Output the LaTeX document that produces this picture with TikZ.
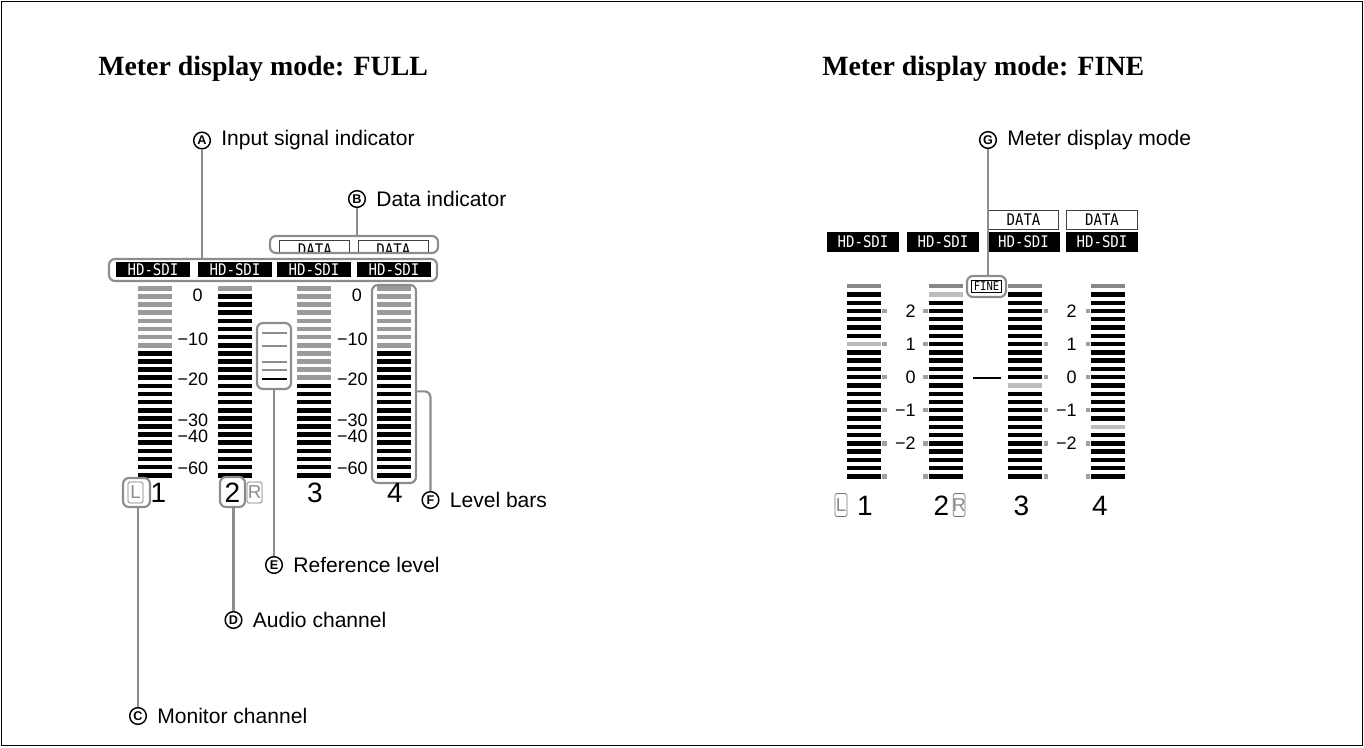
\documentclass[tikz,border=0pt]{standalone}
\usepackage{fontspec}
\setmainfont{Liberation Serif}
\setsansfont{Liberation Sans}
\newfontfamily\labfont{Liberation Sans}
\newfontfamily\lcdfont[FakeStretch=0.88]{DejaVu Sans Mono}
\usetikzlibrary{fit}
\definecolor{cgray}{HTML}{8C8C8C}
\definecolor{bgray}{HTML}{9A9A9A}
\definecolor{lgray}{HTML}{BDBDBD}
\definecolor{dgray}{HTML}{878787}
\definecolor{tgray}{HTML}{A0A0A0}
\begin{document}
\begin{tikzpicture}[x=0.75pt,y=-0.75pt,
  hl/.style={draw=cgray, line width=1.6pt, rounded corners=4.5pt, inner sep=0pt},
  lead/.style={draw=cgray, line width=1.6pt},
  circ/.style={circle, draw=black, line width=1.1pt, inner sep=0pt, minimum size=12.5pt, font=\labfont\bfseries\fontsize{9.5}{9.5}\selectfont},
  ctext/.style={anchor=west, inner sep=0pt, font=\labfont\fontsize{15.8}{16}\selectfont},
  ttl/.style={anchor=base west, inner sep=0pt, font=\rmfamily\bfseries\fontsize{20.9}{21}\selectfont},
  hd/.style={fill=black, text=white, inner sep=0pt, minimum width=55.5pt, font=\lcdfont\fontsize{12}{12}\selectfont},
  databox/.style={draw=black!75, line width=0.6pt, fill=white, inner sep=0pt, minimum width=52.5pt, minimum height=14.5pt, font=\lcdfont\fontsize{12}{12}\selectfont},
  scl/.style={inner sep=0pt, font=\labfont\fontsize{13.5}{14}\selectfont},
  bignum/.style={inner sep=0pt, font=\labfont\fontsize{21}{21}\selectfont},
  lrbox/.style={draw=black!55, line width=0.6pt, rounded corners=1.2pt, inner sep=0pt},
  lrtext/.style={inner sep=0pt, text=black!45, font=\labfont\fontsize{14}{14}\selectfont},
]
\useasboundingbox (0,0) rectangle (1364,747);
\draw[line width=1.2pt] (1.5,1.5) rectangle (1362.5,745.5);

% titles
\node[ttl] (t1) at (98,75) {Meter display mode: FULL};
\node[ttl] (t2) at (822,75) {Meter display mode: FINE};

% ================= FULL =================
% bars
\foreach \cx/\ng in {138/8, 218/1, 297/12, 377/8} {
  \foreach \i in {0,...,23} {
    \pgfmathsetmacro\yt{286+\i*8.13}
    \ifnum\i<\ng \def\bc{bgray}\else\def\bc{black}\fi
    \fill[\bc] (\cx,\yt) rectangle ++(34,4.6);
  }
}
% scale labels
\foreach \dx in {0,159.3} {
  \node[scl] at (197.7+\dx,295.3) {0};
  \node[scl, anchor=east] at (208.5+\dx,339) {−10};
  \node[scl, anchor=east] at (208.5+\dx,379.5) {−20};
  \node[scl, anchor=east] at (208.5+\dx,420.5) {−30};
  \node[scl, anchor=east] at (208.5+\dx,436) {−40};
  \node[scl, anchor=east] at (208.5+\dx,468) {−60};
}
% data boxes (partly hidden)
\begin{scope}
  \clip (268,236) rectangle (440,251.5);
  \node[databox, minimum height=15pt] (d1) at (314.8,250) {DATA};
  \node[databox, minimum height=15pt] (d2) at (393.3,250) {DATA};
\end{scope}
\node[hl, fit={(270,236) (438,253)}] (dataA) {};
% HD-SDI row
\foreach \cx/\n in {153/1,235/2,314/3,394/4} {
  \node[hd, minimum height=11.3pt] (hda\n) at (\cx,269.5) {HD-SDI};
}
\node[hl, fit={(109,259) (437,281)}] (hdA) {};
% reference level box
\node[hl, fit={(257,323) (291,389)}] (refA) {};
\foreach \yy/\cc in {333/cgray,346/cgray,362/cgray,370/cgray,379/black} {
  \draw[\cc, line width=2pt] (262,\yy) -- (287,\yy);
}
% level bars box
\node[hl, fit={(372,285) (416,483)}] (lvA) {};
% channel numbers
\node[lrbox, fit={(128,482) (143,503)}] (Lbox) {};
\node[lrtext] at (Lbox.center) {L};
\node[bignum] (n1) at (158.5,493) {1};
\node[bignum] (n2) at (232.5,493) {2};
\node[lrbox, fit={(247,482) (262,503)}] (Rbox) {};
\node[lrtext] at (Rbox.center) {R};
\node[bignum] (n3) at (315,493) {3};
\node[bignum] (n4) at (395,493) {4};
\node[hl, fit={(123,478) (150,507)}] (monA) {};
\node[hl, fit={(220,477) (245,507)}] (audA) {};

% callouts FULL
\node[circ] (cA) at (202,140.5) {A};
\node[ctext] (tA) at ([xshift=7.5pt]cA.east) {Input signal indicator};
\draw[lead] (cA.south) -- (cA.south |- hdA.north);
\node[circ] (cB) at (357,199) {B};
\node[ctext] (tB) at ([xshift=7.5pt]cB.east) {Data indicator};
\draw[lead] (cB.south) -- (cB.south |- dataA.north);
\node[circ] (cC) at (138,716) {C};
\node[ctext] (tC) at ([xshift=7.5pt]cC.east) {Monitor channel};
\draw[lead] (cC.north |- monA.south) -- (cC.north);
\node[circ] (cD) at (233.5,620) {D};
\node[ctext] (tD) at ([xshift=7.5pt]cD.east) {Audio channel};
\draw[lead] (cD.north |- audA.south) -- (cD.north);
\node[circ] (cE) at (274,565) {E};
\node[ctext] (tE) at ([xshift=7.5pt]cE.east) {Reference level};
\draw[lead] (cE.north |- refA.south) -- (cE.north);
\node[circ] (cF) at (430.5,500) {F};
\node[ctext] (tF) at ([xshift=7.5pt]cF.east) {Level bars};
\draw[lead, rounded corners=4.5pt] ([yshift=-5.5pt]lvA.east) -| (cF.north);

% ================= FINE =================
\foreach \cx/\lg in {847/7, 929/1, 1008/12, 1091/17} {
  \foreach \i in {0,...,23} {
    \pgfmathsetmacro\yt{284+\i*8.27}
    \ifnum\i=0 \def\bc{dgray}\else\ifnum\i=\lg \def\bc{lgray}\else\def\bc{black}\fi\fi
    \fill[\bc] (\cx,\yt) rectangle ++(34,4.4);
  }
}
\foreach \tx in {882.3, 923.3, 1043.7, 1086} {
  \foreach \i in {3,7,11,15,19,23} {
    \pgfmathsetmacro\yt{284+\i*8.27}
    \fill[tgray] (\tx,\yt) rectangle ++(4.4,4.4);
  }
}
\foreach \i/\t in {3/2,7/1,11/0,15/{−1},19/{−2}} {
  \pgfmathsetmacro\yc{286.2+\i*8.27}
  \node[scl, anchor=east] (fl\i) at (916,\yc) {\t};
  \node[scl, anchor=east] (fr\i) at (1077,\yc) {\t};
}
% reference line
\draw[black, line width=1.6pt] (973,378) -- (1001,378);
% HD-SDI and DATA
\foreach \cx/\n in {863/1,943/2,1023.5/3,1102/4} {
  \node[hd, minimum width=54pt, minimum height=14.5pt] (hdb\n) at (\cx,242) {HD-SDI};
}
\node[databox] (db3) at (1023.5,220) {DATA};
\node[databox, minimum width=53.5pt] (db4) at (1102,220) {DATA};
% FINE indicator
\node[hl, fit={(967,276) (1006,297)}] (fineB) {};
\node[draw=black, line width=0.6pt, inner sep=0pt, minimum width=23pt, minimum height=9.5pt, font=\lcdfont\fontsize{9}{9}\selectfont] (finetxt) at (fineB.center) {FINE};
% numbers
\node[lrbox, fit={(835,493.5) (847,516.5)}] (Lbox2) {};
\node[lrtext] at (Lbox2.center) {L};
\node[bignum] (m1) at (865,506) {1};
\node[bignum] (m2) at (941.5,506) {2};
\node[lrbox, fit={(953.3,493.5) (965,516.5)}] (Rbox2) {};
\node[lrtext] at (Rbox2.center) {R};
\node[bignum] (m3) at (1021.5,506) {3};
\node[bignum] (m4) at (1100,506) {4};
% callout G
\node[circ] (cG) at (988,140) {G};
\node[ctext] (tG) at ([xshift=7.5pt]cG.east) {Meter display mode};
\draw[lead] (cG.south) -- (cG.south |- fineB.north);
\end{tikzpicture}
\end{document}
